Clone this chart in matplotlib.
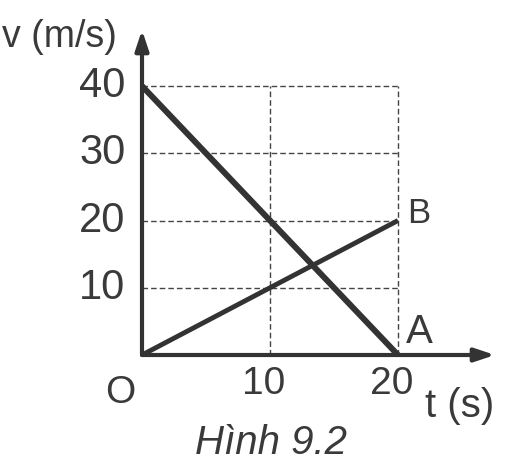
import matplotlib
matplotlib.use("Agg")
import matplotlib.pyplot as plt

# Data
t_a = [0, 20]
v_a = [40, 0]
t_b = [0, 20]
v_b = [0, 20]
y_ticks = [10, 20, 30, 40]
x_ticks = [10, 20]

INK = "#333333"
TXT = "#3a3a3a"

plt.rcParams["font.family"] = ["Liberation Sans", "DejaVu Sans"]

fig = plt.figure(figsize=(5.2, 4.66), dpi=100)
W, H = 520, 466
# pixel geometry: x=0 at 142px, 12.8 px per unit; y=0 at 355px, 6.725 px per unit
ax = fig.add_axes([142 / W, (H - 355) / H, (495 - 142) / W, (355 - 30) / H])
ax.set_xlim(0, 353 / 12.8)
ax.set_ylim(0, 325 / 6.725)
ax.axis("off")

# dashed grid
for y in y_ticks:
    ax.plot([0, max(x_ticks)], [y, y], color="#444444", lw=1.0,
            dashes=(4, 2.2), zorder=1)
for x in x_ticks:
    ax.plot([x, x], [0, max(y_ticks)], color="#444444", lw=1.0,
            dashes=(4, 2.2), zorder=1)

# axes with arrows
xmax, ymax = ax.get_xlim()[1], ax.get_ylim()[1]
ax.annotate("", xy=(xmax, 0), xytext=(0, 0),
            arrowprops=dict(arrowstyle="-|>,head_length=1.2,head_width=0.4",
                            color=INK, lw=3.0, shrinkA=0, shrinkB=0),
            annotation_clip=False, zorder=3)
ax.annotate("", xy=(0, ymax), xytext=(0, 0),
            arrowprops=dict(arrowstyle="-|>,head_length=1.2,head_width=0.4",
                            color=INK, lw=3.0, shrinkA=0, shrinkB=0),
            annotation_clip=False, zorder=3)

# velocity lines
ax.plot(t_a, v_a, color=INK, lw=4.3, solid_capstyle="butt", zorder=4)
ax.plot(t_b, v_b, color=INK, lw=3.5, solid_capstyle="butt", zorder=4)

# tick labels
for y in y_ticks:
    ax.text(-1.3, y, str(y), ha="right", va="center", fontsize=30,
            color=TXT, clip_on=False)
for x in x_ticks:
    ax.text(x - 0.5, -4.3, str(x), ha="center", va="center", fontsize=28,
            color=TXT, clip_on=False)
ax.text(-1.7, -5.6, "O", ha="center", va="center", fontsize=28,
        color=TXT, clip_on=False)

# axis labels and point names
ax.text(-10.95, 47.3, "v (m/s)", ha="left", va="center", fontsize=27,
        color=TXT, clip_on=False)
ax.text(22.1, -7.6, "t (s)", ha="left", va="center", fontsize=29,
        color=TXT, clip_on=False)
ax.text(20.7, 21.0, "B", ha="left", va="center", fontsize=25,
        color=TXT, clip_on=False)
ax.text(20.6, 3.4, "A", ha="left", va="center", fontsize=29,
        color=TXT, clip_on=False)

fig.text(271 / W, 1 - 443 / H, "Hình 9.2", ha="center", va="center",
         fontsize=29, style="italic", color=TXT)

fig.savefig("out.png", dpi=100, facecolor="white")
